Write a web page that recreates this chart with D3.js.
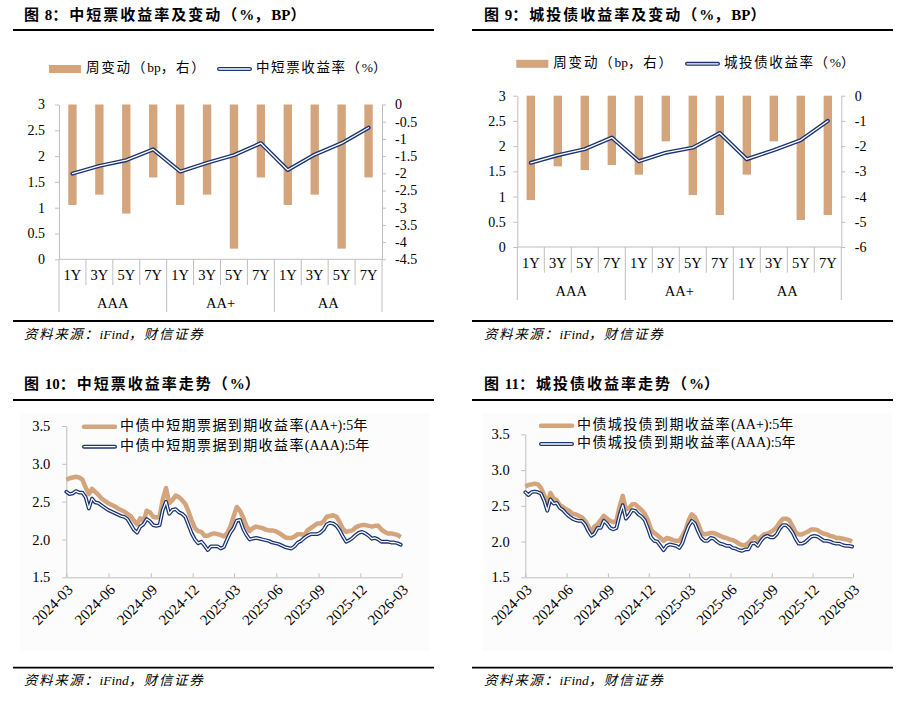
<!DOCTYPE html>
<html>
<head>
<meta charset="utf-8">
<script src="https://cdn.jsdelivr.net/npm/d3@7"></script>
<style>
  body { margin: 0; background: #fff; }
  svg text { font-family: "Liberation Serif", "Noto Sans CJK SC", serif; fill: #000; }
</style>
</head>
<body>
<svg id="chart" width="906" height="704"></svg>
<script>
// categories
const tenors = ["1Y", "3Y", "5Y", "7Y"];
const ratings = ["AAA", "AA+", "AA"];

// 图8 中短票: weekly change (bp, right axis) and yield (%)
const mtnChange = [-2.92, -2.62, -3.17, -2.12, -2.92, -2.62, -4.19, -2.12, -2.92, -2.62, -4.19, -2.12];
const mtnYield = [1.66, 1.81, 1.92, 2.13, 1.70, 1.87, 2.02, 2.25, 1.73, 2.03, 2.25, 2.55];

// 图9 城投债
const ctbChange = [-4.14, -2.80, -2.95, -2.75, -3.13, -1.81, -3.94, -4.73, -3.13, -1.81, -4.93, -4.73];
const ctbYield = [1.67, 1.82, 1.94, 2.17, 1.70, 1.87, 1.97, 2.26, 1.74, 1.92, 2.12, 2.50];

// weekly series, first week 2024-03-01
const seriesStart = "2024-03-01";
const dateTicks = ["2024-03", "2024-06", "2024-09", "2024-12", "2025-03", "2025-06", "2025-09", "2025-12", "2026-03"];

// 图10 中债中短期票据 5年
const mtnAAplus = [
  2.79, 2.81, 2.82, 2.83, 2.82, 2.79, 2.69, 2.60, 2.67, 2.63,
  2.59, 2.54, 2.51, 2.48, 2.46, 2.44, 2.41, 2.39, 2.37, 2.34,
  2.31, 2.25, 2.20, 2.28, 2.24, 2.38, 2.36, 2.30, 2.29, 2.30,
  2.53, 2.68, 2.48, 2.52, 2.58, 2.56, 2.52, 2.47, 2.37, 2.25,
  2.15, 2.11, 2.10, 2.05, 2.05, 2.07, 2.08, 2.07, 2.06, 2.04,
  2.08, 2.17, 2.30, 2.43, 2.38, 2.29, 2.18, 2.11, 2.15, 2.17,
  2.16, 2.15, 2.13, 2.12, 2.12, 2.11, 2.09, 2.06, 2.03, 2.02,
  2.02, 2.04, 2.07, 2.07, 2.06, 2.12, 2.15, 2.18, 2.21, 2.21,
  2.24, 2.30, 2.31, 2.32, 2.30, 2.23, 2.14, 2.10, 2.11, 2.12,
  2.16, 2.18, 2.19, 2.19, 2.18, 2.17, 2.18, 2.18, 2.13, 2.10,
  2.08, 2.08, 2.07, 2.06, 2.03
];
const mtnAAA = [
  2.63, 2.60, 2.61, 2.64, 2.62, 2.62, 2.56, 2.41, 2.54, 2.49,
  2.48, 2.45, 2.42, 2.39, 2.37, 2.35, 2.33, 2.31, 2.30, 2.27,
  2.20, 2.13, 2.09, 2.17, 2.20, 2.27, 2.24, 2.19, 2.18, 2.19,
  2.39, 2.50, 2.34, 2.39, 2.40, 2.36, 2.34, 2.30, 2.19, 2.08,
  2.00, 1.95, 1.97, 1.92, 1.86, 1.91, 1.91, 1.91, 1.88, 1.90,
  2.00, 2.09, 2.15, 2.25, 2.26, 2.14, 2.06, 2.00, 2.01, 2.02,
  2.01, 2.00, 1.99, 1.98, 1.96, 1.95, 1.94, 1.92, 1.90, 1.89,
  1.88, 1.91, 1.96, 1.98, 2.02, 2.05, 2.07, 2.07, 2.07, 2.09,
  2.13, 2.20, 2.22, 2.21, 2.18, 2.12, 2.04, 1.97, 1.99, 2.02,
  2.06, 2.09, 2.10, 2.08, 2.05, 2.01, 2.02, 2.00, 1.97, 1.97,
  1.97, 1.96, 1.96, 1.95, 1.93
];

// 图11 中债城投债 5年
const ctbAAplus = [
  2.77, 2.79, 2.80, 2.81, 2.80, 2.75, 2.65, 2.52, 2.68, 2.60,
  2.58, 2.51, 2.48, 2.45, 2.43, 2.39, 2.38, 2.36, 2.34, 2.29,
  2.22, 2.13, 2.21, 2.24, 2.30, 2.36, 2.32, 2.29, 2.27, 2.29,
  2.49, 2.64, 2.45, 2.47, 2.52, 2.52, 2.48, 2.44, 2.39, 2.30,
  2.17, 2.12, 2.09, 2.05, 2.01, 2.05, 2.04, 2.02, 2.01, 2.01,
  2.08, 2.16, 2.30, 2.38, 2.34, 2.25, 2.13, 2.10, 2.11, 2.12,
  2.12, 2.10, 2.08, 2.06, 2.05, 2.03, 2.02, 2.00, 1.97, 1.95,
  1.95, 1.98, 2.03, 2.07, 2.02, 2.06, 2.10, 2.11, 2.13, 2.16,
  2.20, 2.27, 2.32, 2.32, 2.30, 2.22, 2.13, 2.10, 2.10, 2.12,
  2.14, 2.17, 2.17, 2.16, 2.13, 2.11, 2.10, 2.08, 2.07, 2.05,
  2.05, 2.04, 2.03, 2.02, 2.00
];
const ctbAAA = [
  2.69, 2.65, 2.69, 2.70, 2.69, 2.67, 2.57, 2.43, 2.59, 2.53,
  2.54, 2.47, 2.44, 2.39, 2.35, 2.32, 2.30, 2.29, 2.29, 2.24,
  2.15, 2.08, 2.11, 2.19, 2.19, 2.29, 2.25, 2.19, 2.17, 2.19,
  2.37, 2.51, 2.32, 2.37, 2.44, 2.43, 2.38, 2.35, 2.30, 2.19,
  2.06, 2.01, 2.00, 1.94, 1.88, 1.94, 1.96, 1.95, 1.94, 1.91,
  1.98, 2.11, 2.22, 2.29, 2.25, 2.14, 2.05, 2.01, 2.01, 2.05,
  2.04, 2.00, 1.97, 1.96, 1.94, 1.94, 1.91, 1.90, 1.88, 1.87,
  1.89, 1.89, 1.97, 1.98, 1.94, 2.01, 2.06, 2.08, 2.06, 2.06,
  2.10, 2.18, 2.23, 2.23, 2.19, 2.13, 2.04, 1.97, 1.97, 1.99,
  2.03, 2.07, 2.08, 2.07, 2.04, 2.01, 2.01, 2.00, 1.98, 1.97,
  1.97, 1.95, 1.94, 1.94, 1.93
];

const TAN = "#D4A47C";
const NAVY = "#1B3572";
const GRID = "#BFBFBF";

const svg = d3.select("#chart");

// 中文字符加字距，西文不加
const CJK = /[\u3000-\u9fff\uff00-\uffef]/;
function richText(sel, str, spacing) {
  str.match(/[\u3000-\u9fff\uff00-\uffef]+|[^\u3000-\u9fff\uff00-\uffef]+/g).forEach(p => {
    sel.append("tspan").attr("letter-spacing", CJK.test(p) ? spacing : 0).text(p);
  });
  return sel;
}

// 标题、上下粗线、资料来源
function frame(x0, x1, textX, titleY, ruleTop, ruleBottom, sourceY, title) {
  const t = svg.append("text")
    .attr("x", textX).attr("y", titleY)
    .attr("font-size", 15).attr("font-weight", "bold")
    .attr("dominant-baseline", "middle");
  richText(t, title, 2);
  [ruleTop, ruleBottom].forEach(y => {
    svg.append("line")
      .attr("x1", x0).attr("x2", x1).attr("y1", y).attr("y2", y)
      .attr("stroke", "#000").attr("stroke-width", 1.8);
  });
  const s = svg.append("text")
    .attr("x", textX).attr("y", sourceY)
    .attr("font-size", 13.5).attr("font-style", "italic")
    .attr("dominant-baseline", "middle");
  richText(s, "资料来源：iFind，财信证券", 1.6);
}

function styleAxis(g, fontSize) {
  g.selectAll("path.domain").attr("stroke", GRID);
  g.selectAll(".tick line").attr("stroke", GRID);
  g.selectAll(".tick text").attr("font-size", fontSize).attr("fill", "#000")
    .style("font-family", "'Liberation Serif', serif");
}

function doubleLine(sel, d, w) {
  sel.append("path").attr("d", d).attr("fill", "none")
    .attr("stroke", NAVY).attr("stroke-width", w).attr("stroke-linejoin", "round").attr("stroke-linecap", "round");
  sel.append("path").attr("d", d).attr("fill", "none")
    .attr("stroke", "#fff").attr("stroke-width", w * 0.33).attr("stroke-linejoin", "round").attr("stroke-linecap", "round");
}

// 柱线组合图
function barLine(c) {
  const g = svg.append("g");
  const cats = d3.range(ratings.length * tenors.length);
  const x = d3.scaleBand().domain(cats).range([c.left, c.right]).padding(0);
  const yL = d3.scaleLinear().domain([0, 3]).range([c.bottom, c.top]);
  const yR = d3.scaleLinear().domain([c.rightMin, 0]).range([c.bottom, c.top]);
  const step = x.step();
  const bw = step * 0.31;

  // bars
  g.selectAll("rect.bar").data(c.change).enter().append("rect")
    .attr("class", "bar")
    .attr("x", (d, i) => x(i) + step / 2 - bw / 2)
    .attr("y", yR(0))
    .attr("width", bw)
    .attr("height", d => yR(d) - yR(0))
    .attr("fill", TAN);

  // axes
  const ga = g.append("g").attr("transform", `translate(${c.left},0)`)
    .call(d3.axisLeft(yL).tickValues(d3.range(0, 3.01, 0.5)).tickFormat(d => String(+d.toFixed(1)))
      .tickSize(4).tickSizeOuter(0).tickPadding(c.leftPad));
  styleAxis(ga, 14);
  const gr = g.append("g").attr("transform", `translate(${c.right},0)`)
    .call(d3.axisRight(yR).tickValues(d3.range(c.rightMin, 0.001, c.rightStep)).tickFormat(d => String(+d.toFixed(1)))
      .tickSize(4).tickSizeOuter(0).tickPadding(c.rightPad));
  styleAxis(gr, 14);

  // category axis
  g.append("line").attr("x1", c.left).attr("x2", c.right).attr("y1", c.bottom).attr("y2", c.bottom)
    .attr("stroke", GRID);
  d3.range(cats.length + 1).forEach(k => {
    const xx = c.left + k * step;
    g.append("line").attr("x1", xx).attr("x2", xx).attr("y1", c.bottom)
      .attr("y2", k % tenors.length === 0 ? c.longSep : c.shortSep)
      .attr("stroke", GRID);
  });
  cats.forEach(i => {
    g.append("text").attr("x", x(i) + step / 2).attr("y", c.tenorY)
      .attr("text-anchor", "middle").attr("dominant-baseline", "middle")
      .attr("font-size", 14.5).text(tenors[i % tenors.length]);
  });
  ratings.forEach((r, j) => {
    g.append("text").attr("x", c.left + (j * 4 + 2) * step).attr("y", c.ratingY)
      .attr("text-anchor", "middle").attr("dominant-baseline", "middle")
      .attr("font-size", 14.5).text(r);
  });

  // yield line
  const line = d3.line().x((d, i) => x(i) + step / 2).y(d => yL(d));
  doubleLine(g, line(c.yield), 4);

  // legend
  g.append("rect").attr("x", c.legX).attr("y", c.legY - 4).attr("width", 32).attr("height", 8).attr("fill", TAN);
  richText(g.append("text").attr("x", c.legX + 37).attr("y", c.legY).attr("dominant-baseline", "middle")
    .attr("font-size", 13.5), "周变动（bp，右）", 1.8);
  doubleLine(g, `M${c.lineLegX + 2},${c.legY}H${c.lineLegX + 33}`, 4);
  richText(g.append("text").attr("x", c.lineLegX + 39).attr("y", c.legY).attr("dominant-baseline", "middle")
    .attr("font-size", 13.5), c.lineName, 1.6);
}

// 走势图
function trend(c) {
  const g = svg.append("g");
  const start = d3.timeParse("%Y-%m-%d")(seriesStart);
  const dates = c.a.map((d, i) => d3.timeDay.offset(start, i * 7));
  const parseM = d3.timeParse("%Y-%m");
  const tickDates = dateTicks.map(parseM);
  const x = d3.scaleTime().domain([tickDates[0], tickDates[tickDates.length - 1]]).range([c.left, c.right]);
  const y = d3.scaleLinear().domain([1.5, 3.5]).range([c.bottom, c.top]);

  g.append("rect").attr("x", c.bgX).attr("y", c.bgY).attr("width", 410).attr("height", 238).attr("fill", "#fcfcfc");

  const gy = g.append("g").attr("transform", `translate(${c.left},0)`)
    .call(d3.axisLeft(y).tickValues([1.5, 2.0, 2.5, 3.0, 3.5]).tickFormat(d3.format(".1f"))
      .tickSize(4).tickSizeOuter(0).tickPadding(c.leftPad));
  styleAxis(gy, 14.5);
  const gx = g.append("g").attr("transform", `translate(0,${c.bottom})`)
    .call(d3.axisBottom(x).tickValues(tickDates).tickFormat("").tickSize(-4).tickSizeOuter(0));
  styleAxis(gx, 14);
  tickDates.forEach((d, i) => {
    g.append("text")
      .attr("transform", `translate(${x(d) + 5},${c.bottom + 11}) rotate(-45)`)
      .attr("text-anchor", "end").attr("dominant-baseline", "middle")
      .attr("font-size", 15).text(dateTicks[i]);
  });

  const line = d3.line().x((d, i) => x(dates[i])).y(d => y(d));
  g.append("path").attr("d", line(c.b)).attr("fill", "none")
    .attr("stroke", TAN).attr("stroke-width", 4.5).attr("stroke-linejoin", "round");
  doubleLine(g, line(c.a), 3.8);

  // legend
  g.append("path").attr("d", `M${c.legX + 2},${c.legY1}H${c.legX + 33}`)
    .attr("stroke", TAN).attr("stroke-width", 4.5).attr("stroke-linecap", "round");
  richText(g.append("text").attr("x", c.legX + 38).attr("y", c.legY1).attr("dominant-baseline", "middle")
    .attr("font-size", 14), c.nameB, 1.4);
  doubleLine(g, `M${c.legX + 2},${c.legY2}H${c.legX + 33}`, 4);
  richText(g.append("text").attr("x", c.legX + 38).attr("y", c.legY2).attr("dominant-baseline", "middle")
    .attr("font-size", 14), c.nameA, 1.4);
}

// 图8
frame(13, 434, 24, 17, 30, 321, 336, "图 8：中短票收益率及变动（%，BP）");
barLine({
  left: 59, right: 382, top: 104.5, bottom: 259.3,
  rightMin: -4.5, rightStep: 0.5, leftPad: 10, rightPad: 9,
  change: mtnChange, yield: mtnYield,
  shortSep: 285, longSep: 312, tenorY: 277, ratingY: 305,
  legX: 49, lineLegX: 217, legY: 69, lineName: "中短票收益率（%）"
});

// 图9
frame(472, 893, 484, 17, 30, 321, 336, "图 9：城投债收益率及变动（%，BP）");
barLine({
  left: 517.3, right: 841.3, top: 95.7, bottom: 247,
  rightMin: -6, rightStep: 1, leftPad: 7.6, rightPad: 9.5,
  change: ctbChange, yield: ctbYield,
  shortSep: 272.7, longSep: 300, tenorY: 265, ratingY: 292.3,
  legX: 516.3, lineLegX: 685, legY: 63.8, lineName: "城投债收益率（%）"
});

// 图10
frame(13, 434, 24, 386, 400, 667.7, 681.7, "图 10：中短票收益率走势（%）");
trend({
  left: 66.3, right: 401.7, top: 426, bottom: 577.3, leftPad: 12,
  bgX: 20, bgY: 413,
  a: mtnAAA, b: mtnAAplus,
  legX: 82, legY1: 426.7, legY2: 446.7,
  nameB: "中债中短期票据到期收益率(AA+):5年", nameA: "中债中短期票据到期收益率(AAA):5年"
});

// 图11
frame(472, 893, 484, 386, 400, 667.7, 681.7, "图 11：城投债收益率走势（%）");
trend({
  left: 525.3, right: 853, top: 434.3, bottom: 577.3, leftPad: 11.6,
  bgX: 482, bgY: 413,
  a: ctbAAA, b: ctbAAplus,
  legX: 539, legY1: 425.7, legY2: 444,
  nameB: "中债城投债到期收益率(AA+):5年", nameA: "中债城投债到期收益率(AAA):5年"
});
</script>
</body>
</html>
